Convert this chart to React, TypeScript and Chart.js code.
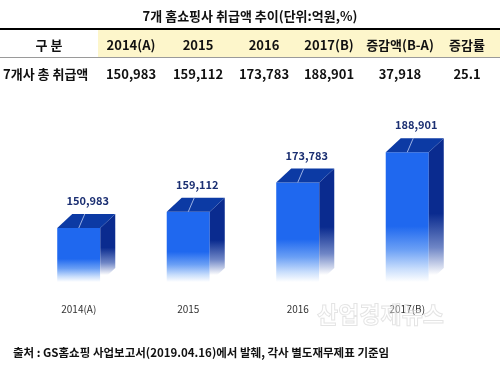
import React, { useEffect, useRef } from "react";
import { Chart, registerables } from "chart.js";

Chart.register(...registerables);

const FONT = '"Noto Sans CJK KR", "Noto Sans", sans-serif';

const title = "7개 홈쇼핑사 취급액 추이(단위:억원,%)";
const categories = ["2014(A)", "2015", "2016", "2017(B)"];
const values = [150983, 159112, 173783, 188901];
const headerFirst = "구 분";
const headerExtra = ["증감액(B-A)", "증감률"];
const rowLabel = "7개사 총 취급액";
const sourceNote = "출처 : GS홈쇼핑 사업보고서(2019.04.16)에서 발췌, 각사 별도재무제표 기준임";
const watermark = "산업경제뉴스";
const yMin = 124000;
const yMax = 215000;

const fmt = (v: number) => v.toLocaleString("en-US");
const diff = values[values.length - 1] - values[0];
const rate = ((diff / values[0]) * 100).toFixed(1);

const headerCells = [headerFirst, ...categories, ...headerExtra];
const rowCells = [rowLabel, ...values.map(fmt), fmt(diff), rate];
const colCenters = [49, 131, 198, 264, 329, 400, 467];

const DX = 15;
const DY = 14;

const cubePlugin = {
  id: "cube3d",
  afterDatasetsDraw(chart: any) {
    const ctx = chart.ctx;
    const meta = chart.getDatasetMeta(0);
    const bottom = chart.chartArea.bottom;
    meta.data.forEach((bar: any, i: number) => {
      const p = bar.getProps(["x", "y", "base", "width"], true);
      const x = p.x;
      const y = p.y;
      const width = p.width;
      const base = Math.min(p.base, bottom);
      const l = x - width / 2;
      const r = x + width / 2;
      ctx.save();
      // side face
      const sg = ctx.createLinearGradient(0, y - DY, 0, base - DY / 2);
      sg.addColorStop(0, "#0a2b8f");
      sg.addColorStop(0.55, "#0a2b8f");
      sg.addColorStop(0.8, "#6f86c6");
      sg.addColorStop(1, "#ffffff");
      ctx.fillStyle = sg;
      ctx.beginPath();
      ctx.moveTo(r, y);
      ctx.lineTo(r + DX, y - DY);
      ctx.lineTo(r + DX, base - DY);
      ctx.lineTo(r, base);
      ctx.closePath();
      ctx.fill();
      // top face
      ctx.fillStyle = "#0c3aa4";
      ctx.beginPath();
      ctx.moveTo(l, y);
      ctx.lineTo(r, y);
      ctx.lineTo(r + DX, y - DY);
      ctx.lineTo(l + DX, y - DY);
      ctx.closePath();
      ctx.fill();
      // leader line
      ctx.strokeStyle = "rgba(170,190,235,0.9)";
      ctx.lineWidth = 1;
      ctx.beginPath();
      ctx.moveTo(x, y);
      ctx.lineTo(x + 6, y - DY);
      ctx.stroke();
      // value label
      ctx.fillStyle = "#1b2f72";
      ctx.font = `bold 11px ${FONT}`;
      ctx.textAlign = "center";
      ctx.textBaseline = "middle";
      ctx.fillText(fmt(values[i]), x + 9, y - 27);
      ctx.restore();
    });
  },
};

function ChartCanvas() {
  const ref = useRef<HTMLCanvasElement>(null);
  useEffect(() => {
    if (!ref.current) return;
    const chart = new Chart(ref.current, {
      type: "bar",
      data: {
        labels: categories,
        datasets: [
          {
            data: values,
            borderWidth: 0,
            barPercentage: 0.393,
            categoryPercentage: 1,
            backgroundColor: (c: any) => {
              const ch = c.chart;
              const area = ch.chartArea;
              if (!area || c.raw === undefined) return "#1e66ee";
              const top = ch.scales.y.getPixelForValue(c.raw);
              const g = ch.ctx.createLinearGradient(0, top, 0, area.bottom);
              g.addColorStop(0, "#1f68ef");
              g.addColorStop(0.57, "#1f68ef");
              g.addColorStop(0.75, "#6a9ff5");
              g.addColorStop(0.9, "#c9defc");
              g.addColorStop(1, "#ffffff");
              return g;
            },
          },
        ],
      },
      options: {
        animation: false,
        responsive: false,
        layout: { padding: { left: 24, right: 38, top: 100, bottom: 34 } },
        plugins: { legend: { display: false }, tooltip: { enabled: false } },
        scales: {
          x: {
            grid: { display: false, drawTicks: false },
            border: { display: false },
            ticks: { padding: 21, color: "#333", font: { family: FONT, size: 10 } },
          },
          y: { display: false, min: yMin, max: yMax },
        },
      },
      plugins: [cubePlugin],
    } as any);
    return () => chart.destroy();
  }, []);
  return (
    <canvas
      ref={ref}
      width={500}
      height={370}
      style={{ position: "absolute", left: 0, top: 0, width: 500, height: 370 }}
    />
  );
}

export default function App() {
  const cell = (text: string, i: number, top: number, row: number) => {
    const left = row === 1 && i === 0;
    return (
      <div
        key={`${row}-${i}`}
        style={{
          position: "absolute",
          top,
          left: left ? 3 : colCenters[i] - 50,
          width: left ? 110 : 100,
          height: 20,
          lineHeight: "20px",
          textAlign: left ? "left" : "center",
          fontWeight: "bold",
          fontSize: 13,
          color: "#111",
          whiteSpace: "nowrap",
        }}
      >
        {text}
      </div>
    );
  };
  return (
    <div
      style={{
        position: "fixed",
        left: 0,
        top: 0,
        width: 500,
        height: 370,
        background: "#fff",
        overflow: "hidden",
        fontFamily: FONT,
      }}
    >
      <ChartCanvas />
      <div
        style={{
          position: "absolute",
          top: 6,
          left: 0,
          width: 500,
          textAlign: "center",
          fontWeight: "bold",
          fontSize: 13,
          lineHeight: "20px",
          color: "#111",
        }}
      >
        {title}
      </div>
      <div style={{ position: "absolute", left: 98, top: 30, width: 402, height: 27, background: "#fdf6cb" }} />
      <div style={{ position: "absolute", left: 0, top: 28, width: 500, height: 2, background: "#000" }} />
      <div style={{ position: "absolute", left: 0, top: 57, width: 500, height: 1, background: "#9a9a9a" }} />
      {headerCells.map((t, i) => cell(t, i, 35, 0))}
      {rowCells.map((t, i) => cell(t, i, 64, 1))}
      <div
        style={{
          position: "absolute",
          left: 317,
          top: 297,
          fontSize: 23,
          fontWeight: "bold",
          color: "rgba(255,255,255,0.35)",
          WebkitTextStroke: "1px rgba(205,205,205,0.55)",
          whiteSpace: "nowrap",
          lineHeight: "32px",
        }}
      >
        {watermark}
      </div>
      <div
        style={{
          position: "absolute",
          left: 13,
          top: 343,
          fontSize: 11.5,
          fontWeight: "bold",
          lineHeight: "18px",
          color: "#111",
          whiteSpace: "nowrap",
        }}
      >
        {sourceNote}
      </div>
    </div>
  );
}
